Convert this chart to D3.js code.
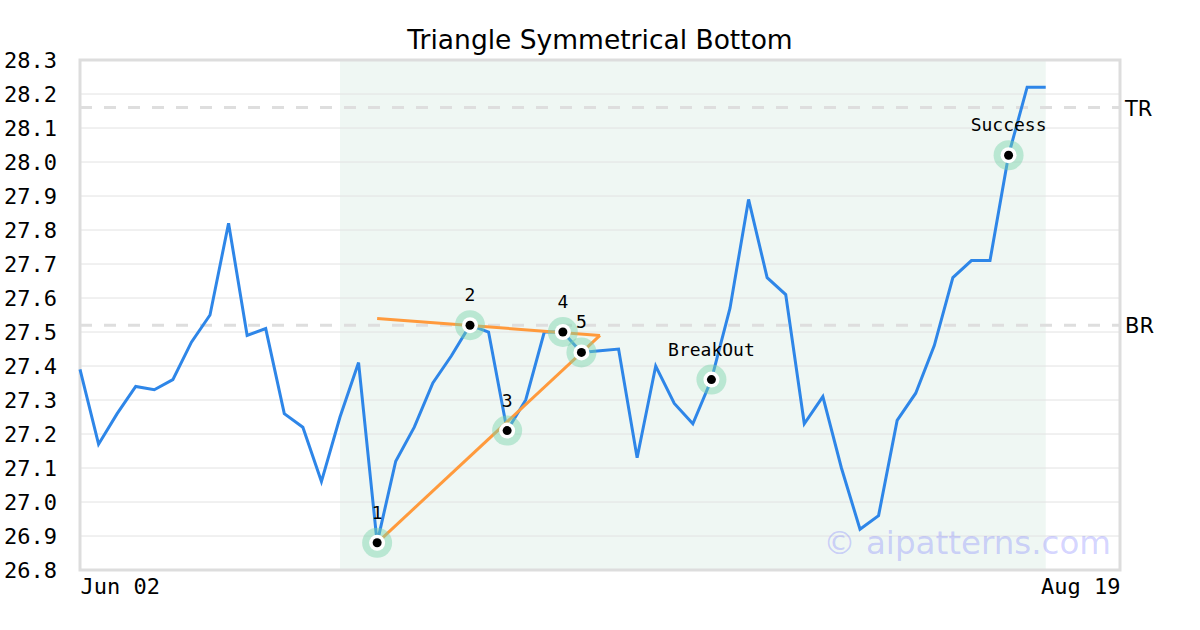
<!DOCTYPE html>
<html>
<head>
<meta charset="utf-8">
<script src="https://cdn.jsdelivr.net/npm/d3@7"></script>
<style>
  html, body { margin: 0; padding: 0; background: #fff; }
  svg { display: block; }
</style>
</head>
<body>
<svg id="chart" width="1200" height="630"></svg>
<script>
// ---- Data ----
const title = "Triangle Symmetrical Bottom";
const prices = [
  27.39, 27.17, 27.26, 27.34, 27.33, 27.36, 27.47, 27.55, 27.82, 27.49,
  27.51, 27.26, 27.22, 27.06, 27.25, 27.41, 26.88, 27.12, 27.22, 27.35,
  27.43, 27.52, 27.50, 27.21, 27.30, 27.50, 27.50, 27.44, 27.445, 27.45,
  27.13, 27.40, 27.29, 27.23, 27.36, 27.57, 27.89, 27.66, 27.61, 27.23,
  27.31, 27.10, 26.92, 26.96, 27.24, 27.32, 27.46, 27.66, 27.71, 27.71,
  28.02, 28.22, 28.22
];
const xSlots = 56;               // index range of the x axis
const xTickIndex = [0, 56];
const xTickLabels = ["Jun 02", "Aug 19"];
const yTicks = [26.8, 26.9, 27.0, 27.1, 27.2, 27.3, 27.4, 27.5, 27.6, 27.7, 27.8, 27.9, 28.0, 28.1, 28.2, 28.3];
const patternRange = [14, 52];   // shaded region (indices)
const markerIndex = [16, 21, 23, 26, 27, 34, 50];
const markerLabels = ["1", "2", "3", "4", "5", "BreakOut", "Success"];
const upperTrendIdx = [16, 28];
const upperTrendVal = [27.54, 27.49];
const lowerTrendIdx = [16, 28];
const lowerTrendVal = [26.88, 27.49];
const levelNames = ["TR", "BR"];
const levelValues = [28.16, 27.52];
const watermark = "© aipatterns.com";

// ---- Layout ----
const svg = d3.select("#chart");
const W = 1200, H = 630;
const m = { left: 80, right: 80, top: 60, bottom: 60 };
const x = d3.scaleLinear().domain([0, xSlots]).range([m.left, W - m.right]);
const y = d3.scaleLinear().domain([26.8, 28.3]).range([H - m.bottom, m.top]);
const mono = "'DejaVu Sans Mono', monospace";
const sans = "'DejaVu Sans', sans-serif";

// Title
svg.append("text").attr("x", 600).attr("y", 49).attr("text-anchor", "middle")
  .attr("font-family", sans).attr("font-size", 26.5).attr("fill", "#000").text(title);

// Shaded pattern region
svg.append("rect")
  .attr("x", x(patternRange[0])).attr("y", y(28.3))
  .attr("width", x(patternRange[1]) - x(patternRange[0]))
  .attr("height", y(26.8) - y(28.3))
  .attr("fill", "#eff7f3");

// Gridlines
svg.append("g").selectAll("line").data(yTicks).join("line")
  .attr("x1", x(0)).attr("x2", x(xSlots))
  .attr("y1", d => y(d)).attr("y2", d => y(d))
  .attr("stroke", "#e2e2e2").attr("stroke-width", 1);

// Y axis labels
const yAxis = d3.axisLeft(y).tickValues(yTicks).tickFormat(d3.format(".1f")).tickSize(0).tickPadding(23);
const gy = svg.append("g").attr("transform", `translate(${m.left},0)`).call(yAxis);
gy.select(".domain").remove();
gy.selectAll("text").attr("font-family", mono).attr("font-size", 22).attr("fill", "#000");

// X axis labels
const xAxis = d3.axisBottom(x).tickValues(xTickIndex).tickFormat((d, i) => xTickLabels[i]).tickSize(0).tickPadding(8);
const gx = svg.append("g").attr("transform", `translate(0,${H - m.bottom})`).call(xAxis);
gx.select(".domain").remove();
gx.selectAll("text").attr("font-family", mono).attr("font-size", 22).attr("fill", "#000")
  .attr("text-anchor", (d, i) => i === 0 ? "start" : "end");

// Level lines
levelValues.forEach((v, i) => {
  svg.append("line").attr("x1", x(0)).attr("x2", x(xSlots))
    .attr("y1", y(v)).attr("y2", y(v))
    .attr("stroke", "#dedede").attr("stroke-width", 3).attr("stroke-dasharray", "12,12");
  svg.append("text").attr("x", x(xSlots) + 5).attr("y", y(v) + 8)
    .attr("font-family", sans).attr("font-size", 21).attr("fill", "#000").text(levelNames[i]);
});

// Border
svg.append("rect").attr("x", x(0)).attr("y", y(28.3))
  .attr("width", x(xSlots) - x(0)).attr("height", y(26.8) - y(28.3))
  .attr("fill", "none").attr("stroke", "#dddddd").attr("stroke-width", 3);

// Watermark
svg.append("text").attr("x", 1111).attr("y", 554).attr("text-anchor", "end")
  .attr("font-family", sans).attr("font-size", 32.5).attr("fill", "rgba(110,110,255,0.3)").text(watermark);

// Price line
const line = d3.line().x((d, i) => x(i)).y(d => y(d));
svg.append("path").datum(prices).attr("d", line)
  .attr("fill", "none").attr("stroke", "#2e86e8").attr("stroke-width", 3).attr("stroke-linejoin", "miter");

// Trend lines
const trendLine = d3.line().x(d => x(d[0])).y(d => y(d[1]));
[[upperTrendIdx, upperTrendVal], [lowerTrendIdx, lowerTrendVal]].forEach(([ix, vv]) => {
  svg.append("path").datum(ix.map((k, j) => [k, vv[j]])).attr("d", trendLine)
    .attr("fill", "none").attr("stroke", "#ff9a3c").attr("stroke-width", 3);
});

// Markers
const mk = svg.append("g").selectAll("g").data(markerIndex).join("g")
  .attr("transform", d => `translate(${x(d)},${y(prices[d])})`);
mk.append("circle").attr("r", 15).attr("fill", "rgba(120,210,170,0.45)");
mk.append("circle").attr("r", 8).attr("fill", "#fff");
mk.append("circle").attr("r", 4.5).attr("fill", "#000");
mk.append("text").attr("y", -24).attr("text-anchor", "middle")
  .attr("font-family", mono).attr("font-size", 18).attr("fill", "#000")
  .text((d, i) => markerLabels[i]);
</script>
</body>
</html>
